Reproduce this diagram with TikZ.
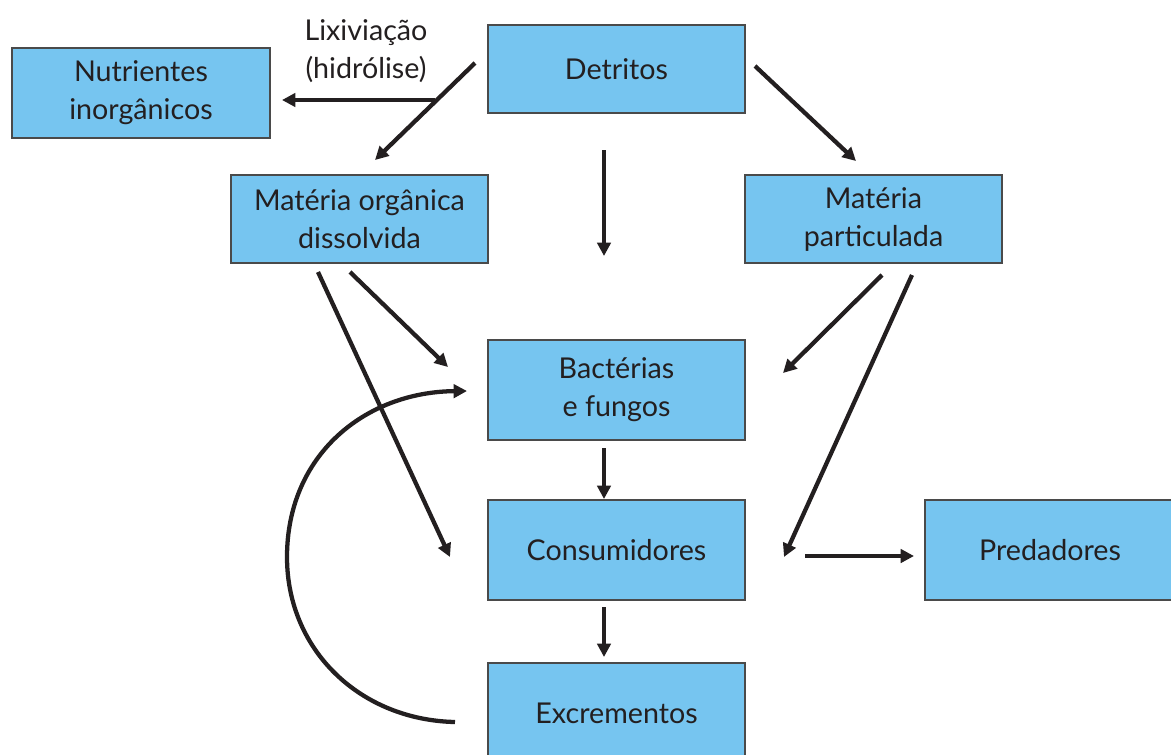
\documentclass[tikz,border=0pt]{standalone}
\usepackage{fontspec}
\setmainfont{Lato}
\usetikzlibrary{arrows.meta}
\definecolor{boxblue}{HTML}{76C5F0}
\definecolor{ink}{HTML}{231F20}
\definecolor{edge}{HTML}{4A4A4A}
\begin{document}
\begin{tikzpicture}[x=0.75pt,y=-0.75pt,
  box/.style={draw=edge,line width=0.8pt,fill=boxblue,text=ink,align=center,
    font=\fontsize{21.5}{28.5}\selectfont,inner sep=0pt},
  arr/.style={draw=ink,line width=3.2pt,-{Triangle[length=10pt,width=10pt]}},
  lbl/.style={text=ink,align=center,font=\fontsize{21.5}{28.5}\selectfont}]
\useasboundingbox (0,0) rectangle (1171,754);
\node[box,minimum width=258*0.75pt,minimum height=90*0.75pt] (nut) at (141,93) {Nutrientes\\inorgânicos};
\node[box,minimum width=257*0.75pt,minimum height=88*0.75pt] (det) at (616.5,69) {Detritos};
\node[box,minimum width=257*0.75pt,minimum height=88*0.75pt] (mod) at (359.5,219) {Matéria orgânica\\dissolvida};
\node[box,minimum width=257*0.75pt,minimum height=88*0.75pt] (mp) at (873.5,219) {Matéria\\particulada};
\node[box,minimum width=257*0.75pt,minimum height=100*0.75pt] (bac) at (616.5,390) {Bactérias\\e fungos};
\node[box,minimum width=257*0.75pt,minimum height=100*0.75pt] (con) at (616.5,550) {Consumidores};
\node[box,minimum width=250*0.75pt,minimum height=100*0.75pt] (pre) at (1050,550) {Predadores};
\node[box,minimum width=257*0.75pt,minimum height=100*0.75pt] (exc) at (616.5,713) {Excrementos};
\node[lbl] (lix) at (366,51) {Lixiviação\\(hidrólise)};
% free ends
\coordinate (a1s) at (475,63);   \coordinate (a1e) at (375,160);
\coordinate (a2s) at (435,100);  \coordinate (a2e) at (282,100);
\coordinate (a3s) at (755,66);   \coordinate (a3e) at (856,161);
\coordinate (a4s) at (604,150);  \coordinate (a4e) at (604,256);
\coordinate (a5s) at (350,272);  \coordinate (a5e) at (448,367);
\coordinate (a6s) at (318,272);  \coordinate (a6e) at (450,557);
\coordinate (a7s) at (882,275);  \coordinate (a7e) at (783,373);
\coordinate (a8s) at (912,275);  \coordinate (a8e) at (784,557);
\coordinate (a9s) at (604,448);  \coordinate (a9e) at (604,499);
\coordinate (a10s) at (805,556); \coordinate (a10e) at (914,556);
\coordinate (a11s) at (604,607); \coordinate (a11e) at (604,657);
\coordinate (cs) at (455,722);   \coordinate (ce) at (467,391);
\draw[arr] (a1s) -- (a1e);
\draw[arr] (a2s) -- (a2e);
\draw[arr] (a3s) -- (a3e);
\draw[arr] (a4s) -- (a4e);
\draw[arr] (a5s) -- (a5e);
\draw[arr] (a6s) -- (a6e);
\draw[arr] (a7s) -- (a7e);
\draw[arr] (a8s) -- (a8e);
\draw[arr] (a9s) -- (a9e);
\draw[arr] (a10s) -- (a10e);
\draw[arr] (a11s) -- (a11e);
\draw[arr] (cs) .. controls (360,720) and (287,650) .. (287,557)
  .. controls (287,455) and (365,392) .. (ce);
\end{tikzpicture}
\end{document}
